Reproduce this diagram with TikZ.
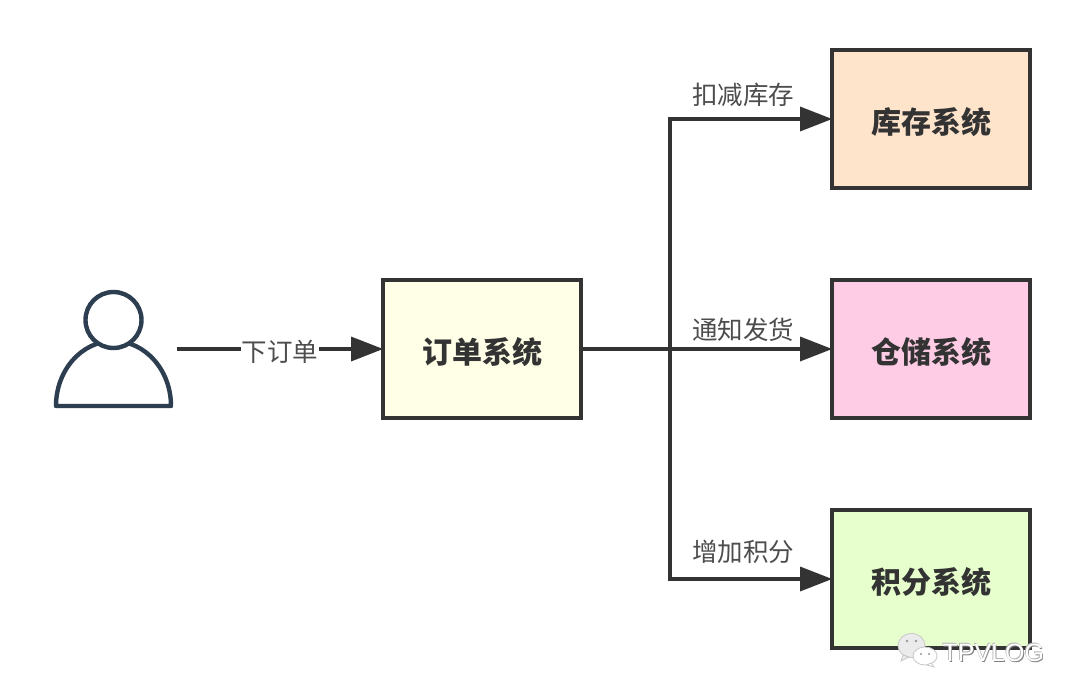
\documentclass[tikz,border=0pt]{standalone}
\usepackage{fontspec}
\setmainfont{Noto Sans CJK SC}
\newfontfamily\latinwm{Liberation Sans}
\usetikzlibrary{arrows.meta}
\definecolor{ink}{HTML}{333333}
\definecolor{usercol}{HTML}{2C3E50}
\definecolor{labelcol}{HTML}{4D4D4D}
\tikzset{
  sysbox/.style={draw=ink,line width=4pt,minimum width=198pt,minimum height=138pt,inner sep=0pt,font=\fontsize{30}{30}\selectfont\bfseries,text=ink,text height=35pt,text depth=6.2pt},
  conn/.style={draw=ink,line width=4pt,shorten >=-2pt,-{Triangle[length=32pt,width=25pt,line width=0pt]}},
  edgelabel/.style={font=\fontsize{25.5}{25.5}\selectfont,text=labelcol,inner sep=1pt},
  usershape/.style={draw=usercol,line width=4.4pt,fill=white},
  ghost/.style={font=\latinwm\fontsize{25}{25}\selectfont,inner sep=0pt},
  bubble/.style={draw=black!22,line width=.8pt,fill=white}
}
\begin{document}
\begin{tikzpicture}[x=1pt,y=-1pt]
\useasboundingbox (0,0) rectangle (1080,698);
\fill[white] (0,0) rectangle (1080,698);
% person
\node[minimum width=127pt,minimum height=120pt,inner sep=0pt] (user) at (113.5,349) {};
\draw[usershape,line join=round] (56,406) arc[start angle=180,end angle=0,x radius=57.5,y radius=-65] -- cycle;
\draw[usershape] (113.5,320) circle[radius=28];
% boxes
\node[sysbox,fill=yellow!10!white] (order) at (482,349) {订单系统};
\node[sysbox,fill={rgb,255:red,255;green,228;blue,204}] (stock) at (931,119) {库存系统};
\node[sysbox,fill={rgb,255:red,255;green,204;blue,230}] (ware) at (931,349) {仓储系统};
\node[sysbox,fill={rgb,255:red,230;green,255;blue,204}] (points) at (931,579) {积分系统};
% connectors
\coordinate (split) at (670,349);
\draw[conn] (user.east) -- node[edgelabel,fill=white,pos=.505,text height=28pt,text depth=3.6pt] (lorder) {下订单} (order.west);
\draw[conn] (order.east) -- (split) |- (stock.west);
\draw[conn] (order.east) -- (ware.west);
\draw[conn] (order.east) -- (split) |- (points.west);
% labels
\node[edgelabel] (l1) at (743,95) {扣减库存};
\node[edgelabel] (l2) at (743,330) {通知发货};
\node[edgelabel] (l3) at (743,552) {增加积分};
% watermark
\draw[bubble,fill=white!92!black] (911.5,645.5) ellipse[x radius=13.5,y radius=12];
\draw[bubble,fill=white!92!black] (903,655) -- (901,661) -- (909,657) -- cycle;
\draw[bubble] (925,656) ellipse[x radius=12,y radius=9];
\draw[bubble] (931,663) -- (934,667) -- (927,665) -- cycle;
\fill[black!40] (907,641) circle[radius=1.3] (916,641) circle[radius=1.3] (921,654) circle[radius=1.1] (929,654) circle[radius=1.1];
\node[ghost,text=black!50] (wm1) at (994.2,653.7) {TPVLOG};
\node[ghost,text=black!30] (wm2) at (992.6,652) {TPVLOG};
\node[ghost,text=white] (wm) at (993.4,652.8) {TPVLOG};
\end{tikzpicture}
\end{document}
